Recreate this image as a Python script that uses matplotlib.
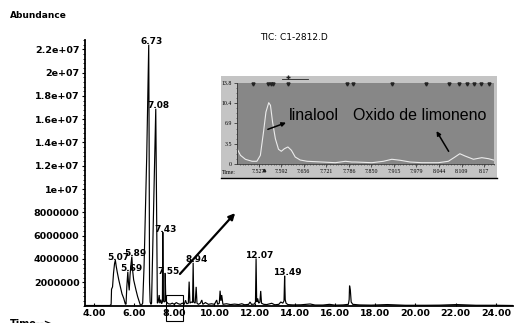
import matplotlib
matplotlib.use("Agg")
import matplotlib.pyplot as plt
from matplotlib.patches import Rectangle
from matplotlib.ticker import MultipleLocator
import numpy as np

# ---------------- data ----------------
# main TIC trace: retention time (min) and abundance
tic_time = [3.56, 4.80, 4.86, 4.88, 4.93, 4.98, 5.03, 5.07, 5.11, 5.16, 5.24, 5.32, 5.40, 5.49, 5.56, 5.60,
            5.64, 5.69, 5.72, 5.76, 5.80, 5.85, 5.89, 5.93, 5.98, 6.02, 6.10, 6.18, 6.26, 6.31, 6.38,
            6.43, 6.50, 6.55, 6.63, 6.68, 6.73, 6.75, 6.77, 6.80, 6.84, 6.87, 7.08, 7.16,
            7.20, 7.25, 7.28, 7.33, 7.37, 7.41, 7.43, 7.46, 7.50, 7.53, 7.55, 7.58, 7.62,
            7.70, 7.80, 7.90, 8.00, 8.10, 8.20, 8.30, 8.40, 8.50, 8.56, 8.62, 8.70, 8.74, 8.78,
            8.84, 8.91, 8.94, 8.97, 9.04, 9.09, 9.13, 9.20, 9.30, 9.37, 9.42, 9.55, 9.70, 9.85,
            10.00, 10.11, 10.16, 10.24, 10.28, 10.32, 10.36, 10.42, 10.60, 10.80, 11.00, 11.20,
            11.36, 11.50, 11.70, 11.77, 11.84, 11.98, 12.04, 12.07, 12.10, 12.15, 12.20, 12.26,
            12.30, 12.34, 12.45, 12.60, 12.85, 13.00, 13.20, 13.30, 13.40, 13.46, 13.49, 13.52,
            13.56, 13.65, 13.90, 14.30, 14.76, 15.00, 15.40, 15.72, 16.00, 16.40, 16.66, 16.70,
            16.72, 16.76, 16.80, 16.88, 17.20, 17.80, 18.60, 19.50, 20.50, 21.20, 22.05, 23.00,
            24.00, 24.85]
tic_abund = [0, 0, 0.1e6, 1.4e6, 1.6e6, 2.8e6, 3.6e6, 3.9e6, 3.4e6, 2.9e6, 2.2e6, 1.6e6, 1.0e6, 0.6e6, 0.15e6, 0.1e6,
             1.6e6, 2.9e6, 2.0e6, 1.3e6, 2.6e6, 3.6e6, 4.2e6, 3.0e6, 2.2e6, 1.9e6, 1.3e6, 0.75e6, 0.33e6, 0.05e6, 0.05e6,
             0.2e6, 3.5e6, 7.0e6, 12.8e6, 17.5e6, 22.4e6, 14.0e6, 2.0e6, 0.3e6, 0.1e6, 0.2e6, 16.9e6, 0.2e6,
             0.3e6, 0.9e6, 0.2e6, 0.5e6, 0.15e6, 0.3e6, 6.3e6, 0.4e6, 0.3e6, 0.35e6, 2.7e6, 0.4e6, 0.3e6,
             0.15e6, 0.12e6, 0.2e6, 0.1e6, 0.25e6, 0.15e6, 0.1e6, 0.2e6, 0.1e6, 0.45e6, 0.15e6, 0.2e6, 2.05e6, 0.2e6,
             0.3e6, 0.25e6, 3.67e6, 0.3e6, 0.2e6, 1.6e6, 0.2e6, 0.1e6, 0.2e6, 0.47e6, 0.1e6, 0.25e6, 0.1e6, 0.15e6,
             0.1e6, 0.47e6, 0.1e6, 0.2e6, 1.27e6, 0.4e6, 0.9e6, 0.1e6, 0.15e6, 0.08e6, 0.12e6, 0.08e6,
             0.15e6, 0.06e6, 0.1e6, 0.3e6, 0.1e6, 0.12e6, 0.3e6, 4.05e6, 0.3e6, 0.6e6, 0.2e6, 0.3e6,
             1.25e6, 0.2e6, 0.1e6, 0.08e6, 0.19e6, 0.06e6, 0.1e6, 0.3e6, 0.2e6, 0.4e6, 2.55e6, 0.5e6,
             0.2e6, 0.08e6, 0.05e6, 0.06e6, 0.13e6, 0.04e6, 0.04e6, 0.1e6, 0.03e6, 0.05e6, 0.1e6, 0.5e6,
             1.7e6, 1.3e6, 0.3e6, 0.1e6, 0.05e6, 0.03e6, 0.08e6, 0.02e6, 0.02e6, 0.03e6, 0.08e6, 0.02e6,
             0.02e6, 0.0]

peak_labels = ["5.07", "5.69", "5.89", "6.73", "7.08", "7.43", "7.55", "8.94", "12.07", "13.49"]
peak_times = [5.07, 5.69, 5.89, 6.73, 7.08, 7.43, 7.55, 8.94, 12.07, 13.49]
peak_heights = [3.9e6, 2.9e6, 4.2e6, 22.4e6, 16.9e6, 6.3e6, 2.7e6, 3.67e6, 4.05e6, 2.55e6]

y_ticks = [2e6, 4e6, 6e6, 8e6, 1e7, 1.2e7, 1.4e7, 1.6e7, 1.8e7, 2e7, 2.2e7]
y_tick_labels = ["2000000", "4000000", "6000000", "8000000", "1e+07", "1.2e+07", "1.4e+07",
                 "1.6e+07", "1.8e+07", "2e+07", "2.2e+07"]
x_ticks = [4, 6, 8, 10, 12, 14, 16, 18, 20, 22, 24]
x_tick_labels = ["4.00", "6.00", "8.00", "10.00", "12.00", "14.00", "16.00", "18.00", "20.00", "22.00", "24.00"]

# inset (zoom 7.46-8.20 min)
ins_time = [7.466, 7.475, 7.489, 7.508, 7.522, 7.532, 7.541, 7.548, 7.556, 7.561, 7.567, 7.575,
            7.584, 7.592, 7.601, 7.611, 7.621, 7.632, 7.646, 7.666, 7.708, 7.747, 7.776, 7.794,
            7.804, 7.852, 7.885, 7.909, 7.933, 7.961, 7.995, 8.042, 8.071, 8.090, 8.104, 8.119,
            8.143, 8.167, 8.186, 8.203]
ins_value = [2.54, 1.52, 0.85, 0.51, 0.51, 1.52, 5.46, 8.84, 10.42, 9.98, 7.15, 4.33,
             2.54, 2.20, 2.64, 2.93, 2.37, 1.23, 0.73, 0.51, 0.39, 0.27, 0.51, 0.39,
             0.39, 0.27, 0.51, 0.85, 0.68, 0.39, 0.27, 0.27, 0.51, 1.23, 1.79, 1.40,
             0.85, 1.12, 0.95, 0.68]
ins_yticks = [0, 3.5, 6.9, 10.4, 13.8]
ins_ytick_labels = ["0", "3.5", "6.9", "10.4", "13.8"]
ins_xticks = [7.527, 7.592, 7.656, 7.721, 7.786, 7.850, 7.915, 7.979, 8.044, 8.109, 8.174]
ins_xtick_labels = ["7.527", "7.592", "7.656", "7.721", "7.786", "7.850", "7.915", "7.979",
                    "8.044", "8.109", "8.17"]
ins_marks = [7.512, 7.555, 7.562, 7.569, 7.612, 7.781, 7.798, 7.910, 8.007, 8.073, 8.101,
             8.124, 8.146, 8.166, 8.189]

# ---------------- figure ----------------
W, H = 514, 323
fig = plt.figure(figsize=(W / 100, H / 100), dpi=100)
fig.patch.set_facecolor("white")

def fx(px):
    return px / W

def fy(py):
    return (H - py) / H

ax = fig.add_axes([fx(85), fy(305.5), fx(513) - fx(85), fy(40) - fy(305.5)])
ax.plot(tic_time, tic_abund, color="black", lw=0.85, solid_joinstyle="miter")
ax.set_xlim(3.56, 24.85)
ax.set_ylim(0, 22.8e6)
for s in ["top", "right"]:
    ax.spines[s].set_visible(False)
ax.spines["left"].set_linewidth(1.3)
ax.spines["bottom"].set_linewidth(1.3)
ax.set_yticks(y_ticks)
ax.set_yticklabels(y_tick_labels)
ax.yaxis.set_minor_locator(MultipleLocator(4e5))
ax.set_xticks(x_ticks)
ax.set_xticklabels(x_tick_labels)
ax.tick_params(axis="y", which="major", direction="out", length=2.5, width=0.8, pad=1.5,
               labelsize=6.8)
ax.tick_params(axis="y", which="minor", direction="out", length=1.2, width=0.6)
ax.tick_params(axis="x", which="major", direction="in", length=2, width=0.8, pad=2.5,
               labelsize=6.8)
for lbl in ax.get_xticklabels() + ax.get_yticklabels():
    lbl.set_fontweight("bold")

for lab, t, h in zip(peak_labels, peak_times, peak_heights):
    ax.annotate(lab, xy=(t, h), xytext=(2.2, 2.2), textcoords="offset points",
                ha="center", va="center", fontsize=6.5, fontweight="bold")

# box around zoomed region and arrow
ax.add_patch(Rectangle((7.58, -1.3e6), 0.87, 2.2e6, fill=False, lw=0.8, ec="black", clip_on=False))
ax.annotate("", xy=(11.12, 8.11e6), xytext=(8.19, 2.53e6),
            arrowprops=dict(arrowstyle="-|>", lw=1.6, color="black", mutation_scale=9))

fig.text(fx(10), fy(16), "Abundance", fontsize=6.5, fontweight="bold", ha="left", va="center")
fig.text(fx(294), fy(38), "TIC: C1-2812.D", fontsize=6.5, ha="center", va="center")
fig.text(fx(10), fy(319), "Time-->", fontsize=7, fontweight="bold", ha="left", va="top")

# ---------------- inset ----------------
fig.patches.append(Rectangle((fx(221), fy(178)), fx(497) - fx(221), fy(76) - fy(178),
                             transform=fig.transFigure, facecolor="#c4c4c4", edgecolor="none",
                             zorder=2))
fig.lines.append(plt.Line2D([fx(221), fx(497)], [fy(177.5), fy(177.5)], transform=fig.transFigure,
                            color="black", lw=1.0, zorder=3))

ins = fig.add_axes([fx(237), fy(164.3), fx(494) - fx(237), fy(82.7) - fy(164.3)], zorder=5)
ins.set_facecolor("#878787")
ins.plot(ins_time, ins_value, color="#ececec", lw=0.8)
ins.set_xlim(7.465, 8.202)
ins.set_ylim(0, 13.8)
for s in ins.spines.values():
    s.set_linewidth(0.6)
    s.set_color("#333333")
ins.spines["top"].set_visible(False)
ins.spines["right"].set_visible(False)
ins.set_yticks(ins_yticks)
ins.set_yticklabels(ins_ytick_labels, fontfamily="Liberation Serif", fontsize=4.2)
ins.set_xticks(ins_xticks)
ins.set_xticklabels(ins_xtick_labels, fontfamily="Liberation Serif", fontsize=4.2)
ins.xaxis.set_minor_locator(MultipleLocator(0.0647 / 8))
ins.yaxis.set_minor_locator(MultipleLocator(3.45 / 4))
ins.tick_params(which="major", direction="out", length=2, width=0.5, pad=1.5, color="#222222")
ins.tick_params(which="minor", direction="out", length=1, width=0.4, color="#222222")
ins.plot(ins_marks, [13.6] * len(ins_marks), ls="none", marker="v", ms=2.2, color="#222222",
         clip_on=False)
ins.plot([7.594, 7.670], [14.5, 14.5], color="#222222", lw=0.6, clip_on=False)
ins.plot([7.611], [14.7], marker="+", ms=3, color="#222222", clip_on=False)
ins.plot([7.541], [-0.9], marker="^", ms=1.8, color="#222222", clip_on=False)
fig.text(fx(222), fy(172), "Time:", fontsize=4.2, fontfamily="Liberation Serif",
         ha="left", va="center", zorder=6)

txt_font = ["Liberation Sans", "DejaVu Sans"]
ins.text(7.615, 7.44, "linalool", fontsize=11.5, family=txt_font, ha="left", va="baseline",
         color="black")
ins.text(7.798, 7.49, "Oxido de limoneno", fontsize=11.5, family=txt_font, ha="left",
         va="baseline", color="black")
ins.annotate("", xy=(7.613, 7.2), xytext=(7.546, 5.75),
             arrowprops=dict(arrowstyle="-|>", lw=1.1, color="black", mutation_scale=6))
ins.annotate("", xy=(8.033, 6.02), xytext=(8.076, 1.79),
             arrowprops=dict(arrowstyle="-|>", lw=1.1, color="black", mutation_scale=6))

fig.savefig("out.png", dpi=100)
